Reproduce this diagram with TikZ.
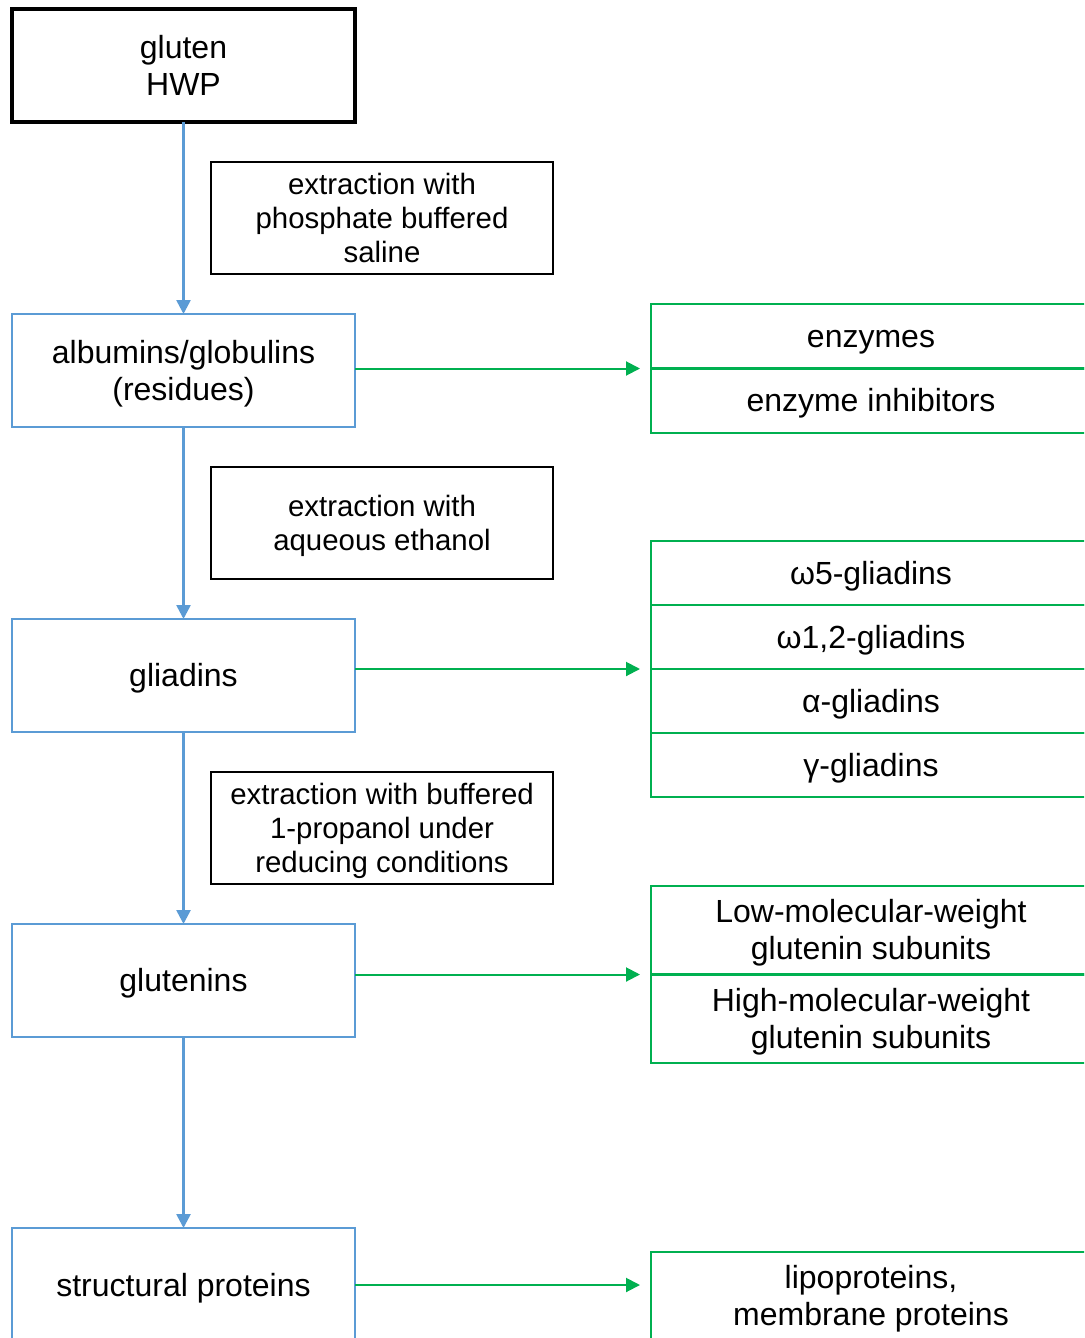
\documentclass[tikz,border=0pt]{standalone}
\usepackage{fontspec}
\setmainfont{Liberation Sans}
\usepackage{xcolor}
\usetikzlibrary{positioning,calc,arrows.meta}
\definecolor{stageblue}{HTML}{5B9BD5}
\definecolor{fracgreen}{HTML}{00B050}
\newcommand{\linestrut}{\rule[-0.212em]{0pt}{1.117em}}
\begin{document}
\begin{tikzpicture}[x=0.5pt,y=-0.5pt,
  every node/.style={font=\fontsize{16}{18.5}\selectfont,align=center,inner sep=0pt,outer sep=0pt,
    execute at begin node=\linestrut},
  stage/.style={draw=stageblue,line width=1.45pt,minimum width=171.5pt,minimum height=56.5pt},
  source/.style={stage,draw=black,line width=1.6pt},
  method/.style={draw=black,line width=1pt,minimum width=171pt,minimum height=56pt,font=\fontsize{14.7}{17}\selectfont},
  fraction/.style={draw=fracgreen,line width=1.2pt,minimum width=220pt},
  down/.style={draw=stageblue,line width=1.3pt,-{Triangle[length=7pt,width=7pt]}},
  over/.style={draw=fracgreen,line width=1pt,-{Triangle[length=7pt,width=7pt]},shorten >=5.5pt}]
\useasboundingbox (0,0) rectangle (1084,1338);
\clip (0,0) rectangle (1084,1338);
% main column
\node[source] (gluten) at (183.5,65.5) {\linestrut gluten\\HWP};
\node[stage,below=96pt of gluten] (albumins) {\linestrut albumins/globulins\\(residues)};
\node[stage,below=96pt of albumins] (gliadins) {gliadins};
\node[stage,below=96pt of gliadins] (glutenins) {glutenins};
\node[stage,below=95.5pt of glutenins,minimum height=57pt] (structural) {structural proteins};
% extraction steps
\node[method,xshift=99.25pt] (pbs) at ($(gluten)!.5!(albumins)$) {\linestrut extraction with\\phosphate buffered\\saline};
\node[method,xshift=99.25pt] (etoh) at ($(albumins)!.5!(gliadins)$) {\linestrut extraction with\\aqueous ethanol};
\node[method,xshift=99.25pt] (propanol) at ($(gliadins)!.5!(glutenins)$) {\linestrut extraction with buffered\\1-propanol under\\reducing conditions};
% fractions
\node[fraction,minimum height=32.25pt] (enz) at (871,336.25) {enzymes};
\node[fraction,minimum height=32.25pt,below=0pt of enz] (inhib) {enzyme inhibitors};
\node[fraction,minimum height=32pt] (wfive) at (871,573) {ω5-gliadins};
\node[fraction,minimum height=32pt,below=0pt of wfive] (wonetwo) {ω1,2-gliadins};
\node[fraction,minimum height=32pt,below=0pt of wonetwo] (alpha) {α-gliadins};
\node[fraction,minimum height=32pt,below=0pt of alpha] (gamma) {γ-gliadins};
\node[fraction,minimum height=44.25pt] (lmw) at (871,930.25) {\linestrut Low-molecular-weight\\glutenin subunits};
\node[fraction,minimum height=44.25pt,below=0pt of lmw] (hmw) {\linestrut High-molecular-weight\\glutenin subunits};
\node[fraction,minimum height=44pt] (lipo) at (871,1296) {\linestrut lipoproteins,\\membrane proteins};
% connectors
\draw[down] (gluten) -- (albumins);
\draw[down] (albumins) -- (gliadins);
\draw[down] (gliadins) -- (glutenins);
\draw[down] (glutenins) -- (structural);
\draw[over] (albumins.east |- enz.south) -- (enz.south west);
\draw[over] (gliadins.east |- wonetwo.south) -- (wonetwo.south west);
\draw[over] (glutenins.east |- lmw.south) -- (lmw.south west);
\draw[over] (structural.east) -- (structural.east -| lipo.west);
\end{tikzpicture}
\end{document}
